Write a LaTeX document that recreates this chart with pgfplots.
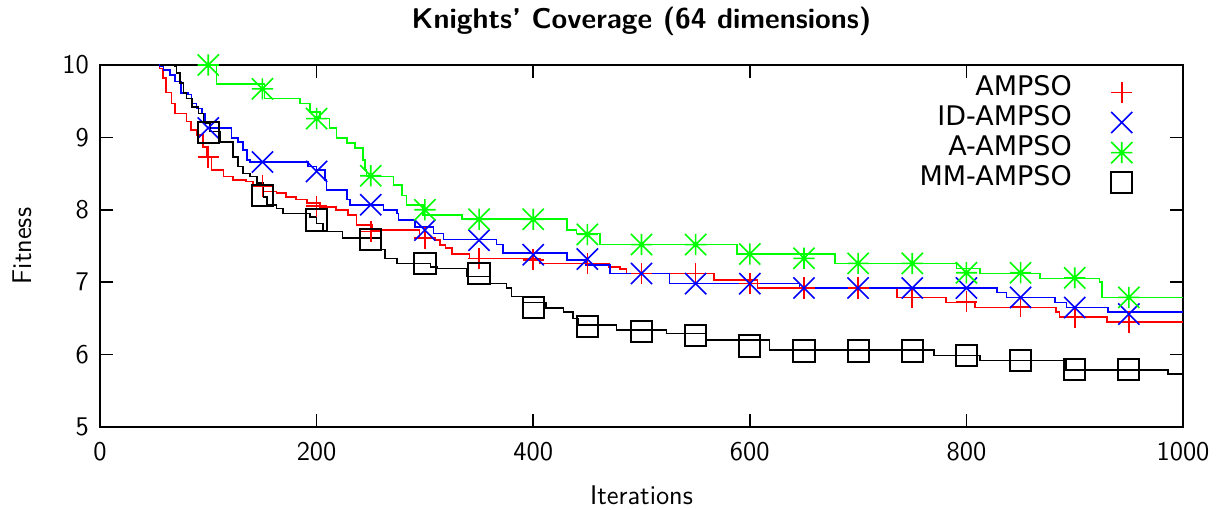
\documentclass[border=0pt]{standalone}
\usepackage{fontspec}
\usepackage{pgfplots}
\pgfplotsset{compat=1.18}
\newfontfamily\legfont{DejaVu Sans}
\definecolor{gpred}{rgb}{1,0,0}
\definecolor{gpblue}{rgb}{0,0,1}
\definecolor{gpgreen}{rgb}{0,1,0}
\pgfdeclareplotmark{gpplus}{%
  \pgfpathmoveto{\pgfqpoint{-\pgfplotmarksize}{0pt}}\pgfpathlineto{\pgfqpoint{\pgfplotmarksize}{0pt}}%
  \pgfpathmoveto{\pgfqpoint{0pt}{-\pgfplotmarksize}}\pgfpathlineto{\pgfqpoint{0pt}{\pgfplotmarksize}}%
  \pgfusepathqstroke}
\pgfdeclareplotmark{gpx}{%
  \pgfpathmoveto{\pgfqpoint{-\pgfplotmarksize}{-\pgfplotmarksize}}\pgfpathlineto{\pgfqpoint{\pgfplotmarksize}{\pgfplotmarksize}}%
  \pgfpathmoveto{\pgfqpoint{-\pgfplotmarksize}{\pgfplotmarksize}}\pgfpathlineto{\pgfqpoint{\pgfplotmarksize}{-\pgfplotmarksize}}%
  \pgfusepathqstroke}
\pgfdeclareplotmark{gpstar}{%
  \pgfpathmoveto{\pgfqpoint{-\pgfplotmarksize}{0pt}}\pgfpathlineto{\pgfqpoint{\pgfplotmarksize}{0pt}}%
  \pgfpathmoveto{\pgfqpoint{0pt}{-\pgfplotmarksize}}\pgfpathlineto{\pgfqpoint{0pt}{\pgfplotmarksize}}%
  \pgfpathmoveto{\pgfqpoint{-\pgfplotmarksize}{-\pgfplotmarksize}}\pgfpathlineto{\pgfqpoint{\pgfplotmarksize}{\pgfplotmarksize}}%
  \pgfpathmoveto{\pgfqpoint{-\pgfplotmarksize}{\pgfplotmarksize}}\pgfpathlineto{\pgfqpoint{\pgfplotmarksize}{-\pgfplotmarksize}}%
  \pgfusepathqstroke}
\begin{document}
\begin{tikzpicture}
\begin{axis}[
  scale only axis,
  width=541.5pt, height=181pt,
  xmin=0, xmax=1000, ymin=5, ymax=10,
  xtick={0,200,...,1000}, ytick={5,6,...,10},
  tick pos=both, tick align=inside,
  major tick length=6.5pt,
  every tick/.style={black, line width=0.8pt},
  axis line style={black, line width=1pt},
  /pgf/number format/assume math mode=true,
  /pgf/number format/1000 sep={},
  tick label style={font=\sffamily\fontsize{13.5}{16}\selectfont},
  xticklabel style={yshift=-4.3pt},
  yticklabel style={xshift=-2pt},
  title={Knights' Coverage (64 dimensions)},
  title style={font=\sffamily\bfseries\fontsize{14.3}{17}\selectfont, at={(axis description cs:0.5,1.0677)}, anchor=base},
  xlabel={Iterations},
  xlabel style={font=\sffamily\fontsize{13.5}{16}\selectfont, at={(axis description cs:0.5,-0.2150)}, anchor=base},
  ylabel={Fitness},
  ylabel style={font=\sffamily\fontsize{13.5}{16}\selectfont, at={(axis description cs:-0.0637,0.5)}, anchor=base, rotate=0},
  legend plot pos=right,
  legend cell align=right,
  legend image code/.code={\path[draw=none,fill=none] (0pt,0pt) -- (30.4pt,0pt);\draw[#1] plot coordinates {(25pt,-1pt)};},
  legend style={draw=none, fill=none, inner sep=0pt, column sep=0pt, row sep=1.15pt,
    at={(axis description cs:0.9538,0.9693)}, anchor=north east,
    font=\legfont\fontsize{13.5}{16}\selectfont,
    nodes={inner sep=0pt, text height=9.4pt, text depth=4.5pt}},
  mark size=5.3pt,
]
% AMPSO
\addplot[const plot, gpred, line width=0.8pt, forget plot] coordinates {
(40,10.3)(55,9.95)(58,9.82)(61,9.62)(66,9.47)(69,9.33)(80,9.22)(84,9.10)(89,9.03)(95,8.87)(99,8.73)(103,8.55)(114,8.46)(123,8.41)(135,8.39)(141,8.32)(150,8.25)(163,8.23)(172,8.18)(181,8.14)(191,8.09)(203,8.04)(218,8.00)(229,7.93)(237,7.79)(251,7.72)(295,7.61)(309,7.58)(314,7.51)(319,7.47)(325,7.39)(341,7.33)(406,7.26)(470,7.21)(480,7.18)(486,7.12)(567,7.03)(607,6.92)(736,6.79)(781,6.72)(808,6.65)(883,6.59)(886,6.52)(930,6.45)(1000,6.45)};
\addplot[only marks, mark=gpplus, gpred, mark options={line width=0.8pt}] coordinates {
(100,8.73)(150,8.33)(200,8.05)(250,7.70)(300,7.61)(350,7.33)(400,7.31)(450,7.26)(500,7.12)(550,7.12)(600,6.98)(650,6.92)(700,6.92)(750,6.79)(800,6.73)(850,6.66)(900,6.52)(950,6.45)};
\addlegendentry{AMPSO}
% ID-AMPSO
\addplot[const plot, gpblue, line width=0.8pt, forget plot] coordinates {
(40,10.3)(55,9.98)(58.5,9.93)(64.6,9.86)(69,9.77)(75,9.61)(81.5,9.59)(84.6,9.47)(89,9.40)(94,9.33)(97,9.22)(101.6,9.13)(121.6,8.99)(127.7,8.94)(132.3,8.83)(135.5,8.69)(138.5,8.66)(192,8.60)(200,8.55)(207.8,8.41)(209,8.27)(227.8,8.14)(231,8.07)(261.6,8.00)(274,7.95)(275.5,7.86)(291,7.76)(308,7.67)(317,7.59)(366,7.52)(372,7.40)(431,7.31)(449,7.24)(471,7.12)(526,6.98)(646,6.92)(828,6.86)(837,6.79)(882,6.72)(892.6,6.65)(931,6.59)(1000,6.59)};
\addplot[only marks, mark=gpx, gpblue, mark options={line width=0.8pt}] coordinates {
(100,9.13)(150,8.66)(200,8.53)(250,8.07)(300,7.72)(350,7.58)(400,7.38)(450,7.32)(500,7.12)(550,6.98)(600,6.98)(650,6.92)(700,6.92)(750,6.92)(800,6.92)(850,6.79)(900,6.65)(950,6.56)};
\addlegendentry{ID-AMPSO}
% A-AMPSO
\addplot[const plot, gpgreen, line width=0.8pt, forget plot] coordinates {
(60,10.3)(107.7,9.74)(152,9.54)(184.7,9.47)(194,9.35)(203,9.26)(212,9.13)(218.5,8.99)(227.8,8.92)(235.5,8.85)(243,8.69)(244.7,8.55)(246,8.46)(271,8.34)(278.6,8.20)(283,8.07)(298.5,7.93)(334,7.87)(431,7.72)(440,7.67)(461.7,7.52)(588,7.39)(678.7,7.26)(791,7.19)(812.5,7.12)(868,7.05)(923,7.00)(925,6.79)(1000,6.79)};
\addplot[only marks, mark=gpstar, gpgreen, mark options={line width=0.8pt}] coordinates {
(100,10.0)(150,9.67)(200,9.26)(250,8.47)(300,8.00)(350,7.87)(400,7.87)(450,7.66)(500,7.52)(550,7.52)(600,7.39)(650,7.33)(700,7.26)(750,7.26)(800,7.13)(850,7.13)(900,7.06)(950,6.79)};
\addlegendentry{A-AMPSO}
% MM-AMPSO
\addplot[const plot, black, line width=0.8pt, forget plot] coordinates {
(60,10.3)(69,9.98)(70.8,9.89)(73.9,9.75)(77,9.61)(80,9.54)(84.7,9.42)(90.8,9.33)(95.4,9.19)(101.6,9.08)(110.8,8.94)(123,8.73)(127.7,8.60)(132.3,8.50)(138.5,8.46)(144.7,8.37)(150.8,8.18)(154,8.07)(163,8.02)(169,7.95)(194,7.90)(200,7.81)(206,7.70)(224,7.61)(260,7.45)(263,7.33)(274,7.26)(305,7.21)(311,7.19)(338.6,7.08)(360,6.98)(375.5,6.92)(380,6.80)(391,6.72)(412,6.64)(428,6.59)(437,6.50)(441.6,6.41)(477,6.34)(523,6.29)(560,6.20)(618,6.06)(770,5.99)(812.5,5.92)(892,5.79)(986,5.73)(1000,5.73)};
\addplot[only marks, mark=square, black, mark options={line width=1pt}] coordinates {
(100,9.07)(150,8.20)(200,7.86)(250,7.59)(300,7.26)(350,7.12)(400,6.65)(450,6.39)(500,6.32)(550,6.26)(600,6.12)(650,6.05)(700,6.05)(750,6.05)(800,5.99)(850,5.92)(900,5.79)(950,5.79)};
\addlegendentry{MM-AMPSO}
\end{axis}
\pgfresetboundingbox
\path (-50pt,-41pt) rectangle (560pt,213.5pt);
\end{tikzpicture}
\end{document}
